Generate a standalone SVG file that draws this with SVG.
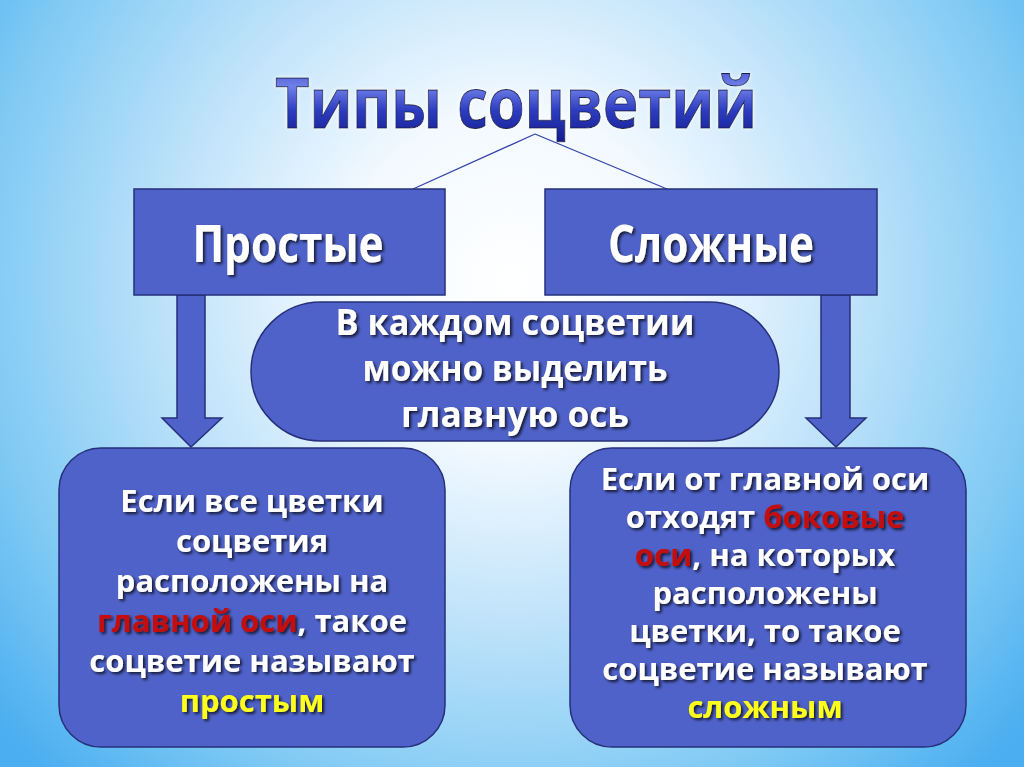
<svg xmlns="http://www.w3.org/2000/svg" width="1024" height="767" viewBox="0 0 1024 767">
  <defs>
    <radialGradient id="bg" cx="512" cy="280" r="680" gradientUnits="userSpaceOnUse">
      <stop offset="0" stop-color="#ffffff"/>
      <stop offset="0.25" stop-color="#f2f9ff"/>
      <stop offset="0.5" stop-color="#c0e3fa"/>
      <stop offset="0.78" stop-color="#80caf4"/>
      <stop offset="1" stop-color="#4aaef0"/>
    </radialGradient>
    <linearGradient id="titleGrad" x1="0" y1="0" x2="0" y2="1">
      <stop offset="0" stop-color="#2a36b8"/>
      <stop offset="0.35" stop-color="#6f80e8"/>
      <stop offset="0.6" stop-color="#2c3cc0"/>
      <stop offset="1" stop-color="#0e1480"/>
    </linearGradient>
    <filter id="shadow" x="-10%" y="-20%" width="120%" height="150%">
      <feDropShadow dx="2" dy="2" stdDeviation="1.5" flood-color="#000000" flood-opacity="0.75"/>
    </filter>
    <filter id="glow" x="-10%" y="-20%" width="120%" height="150%">
      <feDropShadow dx="0" dy="0" stdDeviation="2" flood-color="#ffffff" flood-opacity="0.9"/>
    </filter>
  </defs>
  <style>
    .box { fill: #4f62c9; stroke: #26307a; stroke-width: 1.5; }
    .conn { stroke: #3444a8; stroke-width: 1.3; fill: none; }
    .t { font-family: "Open Sans", "Liberation Sans", sans-serif; font-weight: bold; fill: #ffffff; text-anchor: middle; filter: url(#shadow); }
    .label { font-size: 52px; }
    .mid { font-size: 36px; }
    .bodyL { font-size: 31px; }
    .bodyR { font-size: 31px; }
    .red { fill: #c40f0f; }
    .yel { fill: #ffff1a; }
    .title { font-family: "Open Sans", "Liberation Sans", sans-serif; font-weight: bold; font-size: 70px; fill: url(#titleGrad); stroke: #1a1f50; stroke-width: 1; text-anchor: middle; filter: url(#glow); }
  </style>

  <rect x="0" y="0" width="1024" height="767" fill="url(#bg)"/>

  <g id="title">
    <text class="title" x="516" y="128" textLength="482" lengthAdjust="spacingAndGlyphs">Типы соцветий</text>
  </g>

  <g id="connectors">
    <path class="conn" d="M535 134 L413 189"/>
    <path class="conn" d="M535 134 L667 189"/>
    <polygon class="box" points="177,295 205,295 205,418 222,418 191,447 162,418 177,418"/>
    <polygon class="box" points="821,295 850,295 850,418 866,418 836,447 806,418 821,418"/>
  </g>

  <g id="simple">
    <rect class="box" x="134" y="189" width="311" height="106"/>
    <text class="t label" x="288" y="262" textLength="191" lengthAdjust="spacingAndGlyphs">Простые</text>
  </g>

  <g id="complex">
    <rect class="box" x="545" y="189" width="332" height="106"/>
    <text class="t label" x="711" y="262" textLength="206" lengthAdjust="spacingAndGlyphs">Сложные</text>
  </g>

  <g id="axis">
    <rect class="box" x="251" y="302" width="528" height="139" rx="70" ry="70"/>
    <text class="t mid" x="515" y="335" textLength="359" lengthAdjust="spacingAndGlyphs">В каждом соцветии</text>
    <text class="t mid" x="515" y="381" textLength="305" lengthAdjust="spacingAndGlyphs">можно выделить</text>
    <text class="t mid" x="515" y="427" textLength="228" lengthAdjust="spacingAndGlyphs">главную ось</text>
  </g>

  <g id="simple-desc">
    <rect class="box" x="59" y="448" width="386" height="299" rx="42" ry="42"/>
    <text class="t bodyL" x="252" y="512">Если все цветки</text>
    <text class="t bodyL" x="252" y="552">соцветия</text>
    <text class="t bodyL" x="252" y="592">расположены на</text>
    <text class="t bodyL" x="252" y="632"><tspan class="red">главной оси</tspan>, такое</text>
    <text class="t bodyL" x="252" y="672">соцветие называют</text>
    <text class="t bodyL yel" x="252" y="712">простым</text>
  </g>

  <g id="complex-desc">
    <rect class="box" x="570" y="448" width="396" height="299" rx="42" ry="42"/>
    <text class="t bodyR" x="765" y="490">Если от главной оси</text>
    <text class="t bodyR" x="765" y="528">отходят <tspan class="red">боковые</tspan></text>
    <text class="t bodyR" x="765" y="566"><tspan class="red">оси</tspan>, на которых</text>
    <text class="t bodyR" x="765" y="604">расположены</text>
    <text class="t bodyR" x="765" y="642">цветки, то такое</text>
    <text class="t bodyR" x="765" y="680">соцветие называют</text>
    <text class="t bodyR yel" x="765" y="718">сложным</text>
  </g>
</svg>
